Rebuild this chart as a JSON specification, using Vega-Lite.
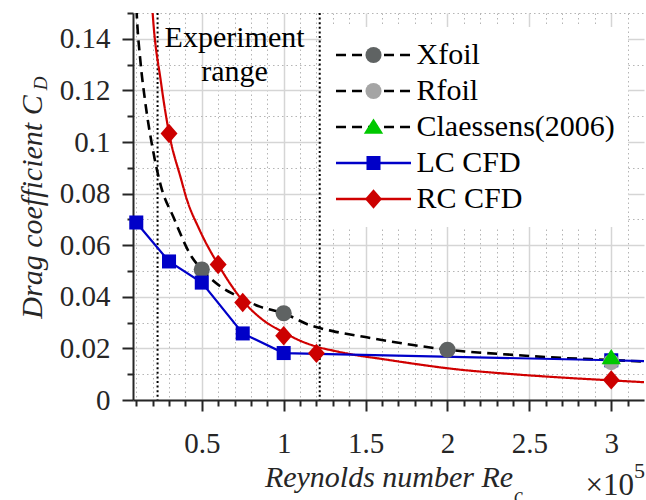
{
  "$schema": "https://vega.github.io/schema/vega-lite/v6.json",
  "width": 511,
  "height": 387,
  "autosize": {"type": "none"},
  "padding": {"left": 133, "top": 13, "right": 2, "bottom": 100},
  "background": "white",
  "config": {
    "view": {"stroke": null},
    "font": "Liberation Serif",
    "axis": {"labelFont": "Liberation Serif", "titleFont": "Liberation Serif"},
    "legend": {"labelFont": "Liberation Serif", "titleFont": "Liberation Serif"},
    "text": {"font": "Liberation Serif"}
  },
  "datasets": {
    "xfoilCurve": [
      {"series": "Xfoil", "Re": 0.097, "CD": 0.158},
      {"series": "Xfoil", "Re": 0.1025, "CD": 0.150},
      {"series": "Xfoil", "Re": 0.125, "CD": 0.1315},
      {"series": "Xfoil", "Re": 0.153, "CD": 0.1163},
      {"series": "Xfoil", "Re": 0.2, "CD": 0.0975},
      {"series": "Xfoil", "Re": 0.25, "CD": 0.083},
      {"series": "Xfoil", "Re": 0.326, "CD": 0.071},
      {"series": "Xfoil", "Re": 0.438, "CD": 0.0555},
      {"series": "Xfoil", "Re": 0.5, "CD": 0.0506},
      {"series": "Xfoil", "Re": 0.61, "CD": 0.0442},
      {"series": "Xfoil", "Re": 0.71, "CD": 0.0405},
      {"series": "Xfoil", "Re": 0.855, "CD": 0.0362},
      {"series": "Xfoil", "Re": 1.0, "CD": 0.0336},
      {"series": "Xfoil", "Re": 1.16, "CD": 0.029},
      {"series": "Xfoil", "Re": 1.3, "CD": 0.0267},
      {"series": "Xfoil", "Re": 1.49, "CD": 0.0245},
      {"series": "Xfoil", "Re": 1.79, "CD": 0.0213},
      {"series": "Xfoil", "Re": 2.0, "CD": 0.0195},
      {"series": "Xfoil", "Re": 2.4, "CD": 0.0175},
      {"series": "Xfoil", "Re": 2.7, "CD": 0.0163},
      {"series": "Xfoil", "Re": 3.0, "CD": 0.0155},
      {"series": "Xfoil", "Re": 3.2, "CD": 0.0149}
    ],
    "rcCurve": [
      {"series": "RC CFD", "Re": 0.19, "CD": 0.16},
      {"series": "RC CFD", "Re": 0.2, "CD": 0.15},
      {"series": "RC CFD", "Re": 0.25, "CD": 0.1235},
      {"series": "RC CFD", "Re": 0.3, "CD": 0.1035},
      {"series": "RC CFD", "Re": 0.374, "CD": 0.0855},
      {"series": "RC CFD", "Re": 0.405, "CD": 0.0785},
      {"series": "RC CFD", "Re": 0.486, "CD": 0.066},
      {"series": "RC CFD", "Re": 0.6, "CD": 0.0525},
      {"series": "RC CFD", "Re": 0.75, "CD": 0.0385},
      {"series": "RC CFD", "Re": 0.87, "CD": 0.0312},
      {"series": "RC CFD", "Re": 1.0, "CD": 0.0262},
      {"series": "RC CFD", "Re": 1.1, "CD": 0.023},
      {"series": "RC CFD", "Re": 1.2, "CD": 0.0207},
      {"series": "RC CFD", "Re": 1.32, "CD": 0.0189},
      {"series": "RC CFD", "Re": 1.44, "CD": 0.0174},
      {"series": "RC CFD", "Re": 1.6, "CD": 0.0159},
      {"series": "RC CFD", "Re": 1.79, "CD": 0.0141},
      {"series": "RC CFD", "Re": 2.0, "CD": 0.0123},
      {"series": "RC CFD", "Re": 2.4, "CD": 0.01},
      {"series": "RC CFD", "Re": 2.7, "CD": 0.0087},
      {"series": "RC CFD", "Re": 3.0, "CD": 0.0076},
      {"series": "RC CFD", "Re": 3.2, "CD": 0.0069}
    ],
    "lcLine": [
      {"Re": 0.1, "CD": 0.0688},
      {"Re": 0.3, "CD": 0.0537},
      {"Re": 0.5, "CD": 0.0455},
      {"Re": 0.75, "CD": 0.0258},
      {"Re": 1.0, "CD": 0.0182},
      {"Re": 3.0, "CD": 0.0154},
      {"Re": 3.2, "CD": 0.0151}
    ],
    "markers": [
      {"model": "Xfoil", "Re": 0.5, "CD": 0.0506},
      {"model": "Xfoil", "Re": 1.0, "CD": 0.0336},
      {"model": "Xfoil", "Re": 2.0, "CD": 0.0195},
      {"model": "LC CFD", "Re": 0.1, "CD": 0.0688},
      {"model": "LC CFD", "Re": 0.3, "CD": 0.0537},
      {"model": "LC CFD", "Re": 0.5, "CD": 0.0455},
      {"model": "LC CFD", "Re": 0.75, "CD": 0.0258},
      {"model": "LC CFD", "Re": 1.0, "CD": 0.0182},
      {"model": "LC CFD", "Re": 3.0, "CD": 0.0154},
      {"model": "Rfoil", "Re": 3.0, "CD": 0.0147},
      {"model": "Claessens(2006)", "Re": 3.0, "CD": 0.0165},
      {"model": "RC CFD", "Re": 0.3, "CD": 0.1033},
      {"model": "RC CFD", "Re": 0.6, "CD": 0.0525},
      {"model": "RC CFD", "Re": 0.75, "CD": 0.0378},
      {"model": "RC CFD", "Re": 1.0, "CD": 0.0249},
      {"model": "RC CFD", "Re": 1.2, "CD": 0.0181},
      {"model": "RC CFD", "Re": 3.0, "CD": 0.0078}
    ],
    "bounds": [
      {"Re": 0.23},
      {"Re": 1.22}
    ]
  },
  "resolve": {"axis": {"x": "independent", "y": "independent"}},
  "layer": [
    {
      "data": {"name": "bounds"},
      "mark": {"type": "rule", "color": "black", "strokeWidth": 2, "strokeDash": [2, 2.6]},
      "encoding": {
        "x": {"field": "Re", "type": "quantitative", "axis": null, "scale": {"domain": [0.08, 3.2], "nice": false, "zero": false}}
      }
    },
    {
      "data": {"values": [{}]},
      "mark": {"type": "text", "text": ["Experiment", "range"], "font": "Liberation Serif", "fontSize": 30, "lineHeight": 33.5, "align": "center", "baseline": "alphabetic", "color": "black"},
      "encoding": {
        "x": {"datum": 0.70, "type": "quantitative", "axis": null, "scale": {"domain": [0.08, 3.2], "nice": false, "zero": false}},
        "y": {"datum": 0.1368, "type": "quantitative", "axis": null, "scale": {"domain": [0, 0.15], "nice": false, "zero": true}}
      }
    },
    {
      "data": {"name": "xfoilCurve"},
      "mark": {"type": "line", "interpolate": "monotone", "strokeWidth": 2.6, "color": "black", "strokeDash": [10, 6], "clip": true},
      "encoding": {
        "x": {"field": "Re", "type": "quantitative", "axis": null, "scale": {"domain": [0.08, 3.2], "nice": false, "zero": false}},
        "y": {"field": "CD", "type": "quantitative", "axis": null, "scale": {"domain": [0, 0.15], "nice": false, "zero": true}}
      }
    },
    {
      "data": {"name": "rcCurve"},
      "mark": {"type": "line", "interpolate": "monotone", "strokeWidth": 2.2, "clip": true},
      "encoding": {
        "x": {"field": "Re", "type": "quantitative", "scale": {"domain": [0.08, 3.2], "nice": false, "zero": false},
          "axis": {"orient": "bottom", "values": [0.5, 1, 1.5, 2, 2.5, 3], "format": "~g", "labelFont": "Liberation Serif", "labelFontSize": 29, "labelColor": "#262626", "labelPadding": 18, "labelFlush": false, "labelOverlap": false, "tickSize": 11, "tickWidth": 2, "tickColor": "#262626", "domainColor": "#262626", "domainWidth": 2, "grid": true, "gridColor": "#d5d5d5", "gridWidth": 1.5, "title": "Reynolds number Re", "titleFont": "Liberation Serif", "titleFontSize": 30, "titleFontStyle": "italic", "titleFontWeight": "normal", "titleColor": "#262626", "titlePadding": 4}},
        "y": {"field": "CD", "type": "quantitative", "scale": {"domain": [0, 0.15], "nice": false, "zero": true},
          "axis": {"orient": "left", "values": [0, 0.02, 0.04, 0.06, 0.08, 0.1, 0.12, 0.14], "format": "~g", "labelFont": "Liberation Serif", "labelFontSize": 29, "labelColor": "#262626", "labelPadding": 12, "labelOverlap": false, "labelFlush": false, "tickSize": 11, "tickWidth": 2, "tickColor": "#262626", "domainColor": "#262626", "domainWidth": 2, "grid": true, "gridColor": "#d5d5d5", "gridWidth": 1.5, "title": "Drag coefficient C", "titleFont": "Liberation Serif", "titleFontSize": 30, "titleFontStyle": "italic", "titleFontWeight": "normal", "titleColor": "#262626", "titlePadding": 12}},
        "stroke": {"field": "series", "type": "nominal",
          "scale": {"domain": ["Xfoil", "Rfoil", "Claessens(2006)", "LC CFD", "RC CFD"], "range": ["#000000", "#000000", "#000000", "#0000c8", "#d00000"]},
          "legend": {"title": null, "orient": "none", "legendX": 189, "legendY": 14, "symbolType": "M-4.65,0H4.65", "symbolSize": 260, "symbolStrokeWidth": 2.4, "symbolFillColor": "transparent", "symbolOffset": 23.5, "labelOffset": 28, "labelFont": "Liberation Serif", "labelFontSize": 30, "labelColor": "black", "labelLimit": 400, "padding": 13, "rowPadding": 6, "fillColor": "white", "zindex": 0}},
        "strokeDash": {"field": "series", "type": "nominal",
          "scale": {"domain": ["Xfoil", "Rfoil", "Claessens(2006)", "LC CFD", "RC CFD"], "range": [[10, 6], [10, 6], [10, 6], [1, 0], [1, 0]]},
          "legend": {"title": null, "orient": "none", "legendX": 189, "legendY": 14, "symbolType": "M-4.65,0H4.65", "symbolSize": 260, "symbolStrokeWidth": 2.4, "symbolFillColor": "transparent", "symbolOffset": 23.5, "labelOffset": 28, "labelFont": "Liberation Serif", "labelFontSize": 30, "labelColor": "black", "labelLimit": 400, "padding": 13, "rowPadding": 6, "fillColor": "white", "zindex": 0}}
      }
    },
    {
      "data": {"name": "lcLine"},
      "mark": {"type": "line", "strokeWidth": 2.2, "color": "#0000c8", "clip": true},
      "encoding": {
        "x": {"field": "Re", "type": "quantitative", "axis": null, "scale": {"domain": [0.08, 3.2], "nice": false, "zero": false}},
        "y": {"field": "CD", "type": "quantitative", "axis": null, "scale": {"domain": [0, 0.15], "nice": false, "zero": true}}
      }
    },
    {
      "data": {"name": "markers"},
      "mark": {"type": "point", "filled": true, "size": 260, "opacity": 1, "strokeWidth": 0},
      "encoding": {
        "x": {"field": "Re", "type": "quantitative", "scale": {"domain": [0.08, 3.2], "nice": false, "zero": false},
          "axis": {"orient": "bottom", "values": [0.1, 0.2, 0.3, 0.4, 0.6, 0.7, 0.8, 0.9, 1.1, 1.2, 1.3, 1.4, 1.6, 1.7, 1.8, 1.9, 2.1, 2.2, 2.3, 2.4, 2.6, 2.7, 2.8, 2.9, 3.1], "labels": false, "domain": false, "tickSize": 6, "tickWidth": 2, "tickColor": "#262626", "grid": true, "gridColor": "#b5b5b5", "gridDash": [1.5, 3], "gridWidth": 1, "title": null}},
        "y": {"field": "CD", "type": "quantitative", "scale": {"domain": [0, 0.15], "nice": false, "zero": true},
          "axis": {"orient": "left", "values": [0.01, 0.03, 0.05, 0.07, 0.09, 0.11, 0.13, 0.15], "labels": false, "domain": false, "tickSize": 6, "tickWidth": 2, "tickColor": "#262626", "grid": true, "gridColor": "#b5b5b5", "gridDash": [1.5, 3], "gridWidth": 1, "title": null}},
        "fill": {"field": "model", "type": "nominal",
          "scale": {"domain": ["RC CFD", "LC CFD", "Claessens(2006)", "Rfoil", "Xfoil"], "range": ["#cc0000", "#0000c8", "#00c800", "#a5a5a5", "#5f6363"]},
          "legend": {"title": null, "orient": "none", "legendX": 189, "legendY": 14, "values": ["Xfoil", "Rfoil", "Claessens(2006)", "LC CFD", "RC CFD"], "symbolSize": 260, "symbolStrokeWidth": 0, "symbolOffset": 23.5, "labelOffset": 28, "labelFont": "Liberation Serif", "labelFontSize": 30, "labelOpacity": 0, "labelLimit": 400, "padding": 13, "rowPadding": 6, "zindex": 1}},
        "shape": {"field": "model", "type": "nominal",
          "scale": {"domain": ["RC CFD", "LC CFD", "Claessens(2006)", "Rfoil", "Xfoil"], "range": ["M0,-1.2L1.05,0L0,1.2L-1.05,0Z", "M-0.87,-0.87H0.87V0.87H-0.87Z", "M0,-1.05L1.2,0.85L-1.2,0.85Z", "circle", "circle"]},
          "legend": {"title": null, "orient": "none", "legendX": 189, "legendY": 14, "values": ["Xfoil", "Rfoil", "Claessens(2006)", "LC CFD", "RC CFD"], "symbolSize": 260, "symbolStrokeWidth": 0, "symbolOffset": 23.5, "labelOffset": 28, "labelFont": "Liberation Serif", "labelFontSize": 30, "labelOpacity": 0, "labelLimit": 400, "padding": 13, "rowPadding": 6, "zindex": 1}}
      }
    },
    {
      "data": {"values": [{}]},
      "mark": {"type": "text", "text": "D", "font": "Liberation Serif", "fontSize": 19, "fontStyle": "italic", "angle": 270, "align": "center", "baseline": "alphabetic", "dy": -86, "color": "#262626"},
      "encoding": {
        "x": {"datum": 0.08, "type": "quantitative", "axis": null, "scale": {"domain": [0.08, 3.2], "nice": false, "zero": false}},
        "y": {"datum": 0.1227, "type": "quantitative", "axis": null, "scale": {"domain": [0, 0.15], "nice": false, "zero": true}}
      }
    },
    {
      "data": {"values": [{}]},
      "mark": {"type": "text", "text": "c", "font": "Liberation Serif", "fontSize": 20, "fontStyle": "italic", "align": "left", "baseline": "alphabetic", "dy": 102, "color": "#262626"},
      "encoding": {
        "x": {"datum": 2.406, "type": "quantitative", "axis": null, "scale": {"domain": [0.08, 3.2], "nice": false, "zero": false}},
        "y": {"datum": 0, "type": "quantitative", "axis": null, "scale": {"domain": [0, 0.15], "nice": false, "zero": true}}
      }
    },
    {
      "data": {"values": [{}]},
      "mark": {"type": "text", "text": "×10", "font": "Liberation Serif", "fontSize": 31, "align": "right", "baseline": "alphabetic", "dx": -10, "dy": 95, "color": "#262626"},
      "encoding": {
        "x": {"datum": 3.2, "type": "quantitative", "axis": null, "scale": {"domain": [0.08, 3.2], "nice": false, "zero": false}},
        "y": {"datum": 0, "type": "quantitative", "axis": null, "scale": {"domain": [0, 0.15], "nice": false, "zero": true}}
      }
    },
    {
      "data": {"values": [{}]},
      "mark": {"type": "text", "text": "5", "font": "Liberation Serif", "fontSize": 22, "align": "left", "baseline": "alphabetic", "dx": -10, "dy": 78, "color": "#262626"},
      "encoding": {
        "x": {"datum": 3.2, "type": "quantitative", "axis": null, "scale": {"domain": [0.08, 3.2], "nice": false, "zero": false}},
        "y": {"datum": 0, "type": "quantitative", "axis": null, "scale": {"domain": [0, 0.15], "nice": false, "zero": true}}
      }
    }
  ]
}
